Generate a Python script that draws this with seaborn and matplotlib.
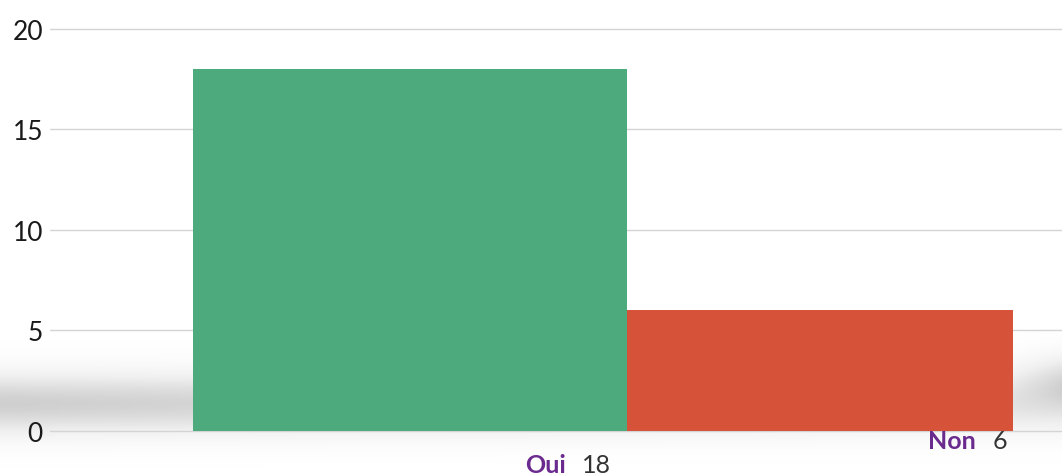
import numpy as np
import pandas as pd
import matplotlib
matplotlib.use("Agg")
import matplotlib.pyplot as plt
import seaborn as sns

# data
categories = ["Oui", "Non"]
values = [18, 6]
bar_colors = ["#4caa7d", "#d65238"]
yticks = [0, 5, 10, 15, 20]

# styling: relative bar widths (perspective look) and label heights
bar_widths = [1.06, 0.94]
label_y = [-1.69, -0.45]

sns.set_theme(style="white")
plt.rcParams['font.family'] = ['Lato', 'DejaVu Sans']

df = pd.DataFrame({"reponse": categories, "n": values})

fig = plt.figure(figsize=(10.62, 4.77), dpi=100)

# background with soft floor shadow
bg = fig.add_axes([0, 0, 1, 1], zorder=-1)
yy = np.linspace(0, 1, 200)[:, None]
xx = np.linspace(0, 1, 400)[None, :]
band = np.exp(-((yy - 0.85) ** 2) / 0.004) * (0.6 + 0.4 * (1 - xx))
band_r = np.exp(-((yy - 0.80) ** 2) / 0.003) * np.clip((xx - 0.94) / 0.06, 0, 1) * 0.6
bg.imshow(band + band_r, extent=(0, 1, 1, 0), aspect="auto", cmap="Greys",
          vmin=0, vmax=3.4)
bg.set_xlim(0, 1)
bg.set_ylim(1, 0)
bg.axis("off")

ax = fig.add_axes([0.047, 0.0, 0.953, 1.0])
ax.patch.set_alpha(0)

for t in yticks:
    ax.axhline(t, color="#d4d4d4", lw=1.0, zorder=1)

sns.barplot(data=df, x="reponse", y="n", hue="reponse", palette=bar_colors,
            width=1.0, legend=False, ax=ax, zorder=3, saturation=1)
left = -bar_widths[0] / 2
for p, w in zip(ax.patches, bar_widths):
    p.set_edgecolor("none")
    p.set_x(left)
    p.set_width(w)
    left += w

ax.set_xlim(-0.878, 1.59)
ax.set_ylim(-2.24, 21.49)
ax.set_yticks(yticks)
ax.set_yticklabels([str(t) for t in yticks], fontsize=19, color="#1a1a1a")
ax.tick_params(axis="y", length=0, pad=5)
ax.set_xticks([])
ax.set_xlabel("")
ax.set_ylabel("")
for s in ax.spines.values():
    s.set_visible(False)

# category labels with values
for i, (c, v) in enumerate(zip(categories, values)):
    ax.text(i + 0.38, label_y[i], c, ha="right", va="center", fontsize=18,
            fontweight="bold", color="#6a2a8e", zorder=5)
    ax.text(i + 0.42, label_y[i], str(v), ha="left", va="center", fontsize=18,
            color="#333333", zorder=5)

fig.savefig("out.png", dpi=100)
